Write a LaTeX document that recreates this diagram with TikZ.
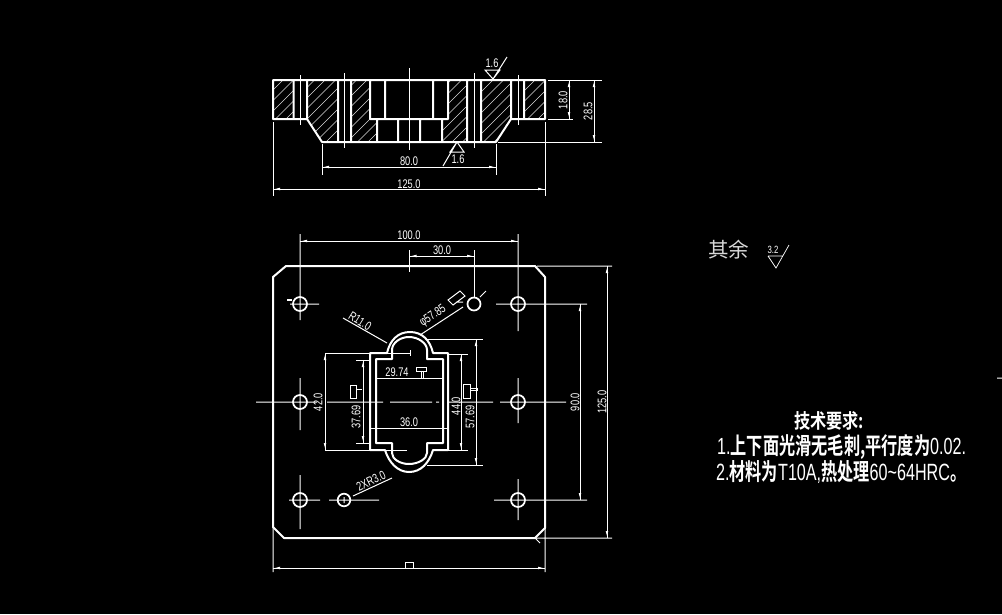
\documentclass[tikz,border=0pt]{standalone}
\usepackage{fontspec}
\usepackage{graphicx}
\setmainfont{Liberation Sans}
\newfontfamily\dimf[FakeStretch=0.74]{Liberation Sans}
\newfontfamily\cjkb{Noto Sans CJK SC Bold}
\newfontfamily\cjk{Noto Sans CJK SC}
\newcommand{\lat}[1]{{\fontspec{Liberation Sans}#1}}
\usetikzlibrary{arrows.meta}
\tikzset{
  obj/.style={white,line width=2pt,line cap=round,line join=round},
  thin line/.style={white,line width=1pt},
  hatchline/.style={white!85!black,line width=0.6pt},
  dimline/.style={white,line width=1pt,preaction={draw,white,line width=1pt,arrows=-},{Latex[length=7pt,width=2.6pt]}-{Latex[length=7pt,width=2.6pt]}},
  dimtxt/.style={white,inner sep=0pt,font=\dimf\fontsize{12.5}{12.5}\selectfont},
  hole/.style={white,line width=1.7pt},
  glyphbox/.style={white,line width=1pt},
  note/.style={white,inner sep=0pt},
}
\begin{document}
\begin{tikzpicture}[x=1pt,y=-1pt]
\fill[black] (0,0) rectangle (1002,614);
\useasboundingbox (0,0) rectangle (1002,614);
% ---- section hatching
\begin{scope}
\clip (273,80)--(293.5,80)--(293.5,119)--(273,119)--cycle
      (307,80)--(338,80)--(338,142)--(322,142)--(307,119)--cycle
      (351,80)--(370,80)--(370,119)--(377,119)--(377,142)--(351,142)--cycle
      (448,80)--(467,80)--(467,142)--(442,142)--(442,119)--(448,119)--cycle
      (481,80)--(511,80)--(511,119)--(496,142)--(481,142)--cycle
      (524,80)--(545,80)--(545,119)--(524,119)--cycle;
\foreach \k in {-6,...,26}{\draw[hatchline] (255+10.5*\k,150)--(335+10.5*\k,70);}
\end{scope}
% ---- section outline
\draw[obj] (273,80)--(545,80)--(545,119)--(524,119)--(524,80)
  (511,80)--(511,119)--(496,142)--(322,142)--(307,119)--(307,80)
  (293.5,80)--(293.5,119)--(273,119)--(273,80)
  (293.5,119)--(307,119) (511,119)--(524,119)
  (338,80)--(338,142) (351,80)--(351,142)
  (467,80)--(467,142) (481,80)--(481,142)
  (370,80)--(370,119)--(448,119)--(448,80)
  (385,80)--(385,119) (433,80)--(433,119)
  (377,119)--(377,142) (398,119)--(398,142) (420,119)--(420,142) (442,119)--(442,142);
\draw[thin line] (300,75)--(300,125) (344,73)--(344,148) (409.5,68)--(409.5,150) (474,73)--(474,148) (518,75)--(518,125);
% section dimensions
\draw[thin line] (322,144)--(322,175) (496,144)--(496,175) (273,122)--(273,196) (545,122)--(545,196)
  (548,80)--(602,80) (548,119)--(573,119) (498,142)--(602,142);
\draw[dimline] (322,167)--(496,167);
\draw[dimline] (273,189)--(545,189);
\draw[dimline] (569,80)--(569,119);
\draw[dimline] (594,80)--(594,142);
\node[dimtxt] (t80) at (409,161.5) {80.0};
\node[dimtxt] (t125a) at (409,184) {125.0};
\node[dimtxt,rotate=90] (t18) at (563,100) {18.0};
\node[dimtxt,rotate=90] (t285) at (588,111) {28.5};
% roughness marks
\draw[thin line] (485,70)--(500,70)--(493,79)--cycle (493,79)--(507,57);
\node[dimtxt] (ra1) at (492,63) {1.6};
\draw[thin line] (450,152)--(464,152)--(457,142)--cycle (457,142)--(443,166);
\node[dimtxt] (ra2) at (458,159) {1.6};
% ---- plan outline
\draw[obj] (286,266)--(535,266)--(545,277)--(545,528)--(535,538)--(284,538)--(273,527)--(273,277)--cycle;
% holes
\foreach \p/\n in {300/304,518/304,300/402,518/402,300/500,518/500}{\draw[hole] (\p,\n) circle[radius=7];}
\draw[hole] (344,500) circle[radius=6.3];
\draw[hole] (474,304) circle[radius=6.5];
% centre lines
\draw[thin line]
  (290,304)--(319,304) (300,234)--(300,320)
  (496,304)--(587,304) (518,234)--(518,331)
  (256,402)--(317,402) (300,378)--(300,430)
  (327,402)--(375,402) (377,402)--(383,402) (390,402)--(432,402) (436,402)--(439,402) (448,402)--(493,402)
  (500,402)--(566,402) (518,378)--(518,423)
  (289,500)--(320,500) (300,475)--(300,529)
  (329,500)--(379,500) (344,497)--(344,503)
  (494,500)--(587,500) (518,479)--(518,520)
  (480,297)--(486,291) (997,378)--(1002,378);
\draw[white,line width=1.4pt] (287,300)--(292,300);
% plan dimensions
\draw[thin line] (409.5,250)--(409.5,272) (474,250)--(474,298);
\draw[dimline] (300,241)--(518,241);
\draw[dimline] (409.5,256)--(474,256);
\node[dimtxt] (t100) at (409,235) {100.0};
\node[dimtxt] (t30) at (442,250) {30.0};
\draw[thin line] (537,266)--(612,266) (535,538)--(612,538) (535,538)--(540,543) (273,527)--(273,572) (545,528)--(545,572);
\draw[dimline] (580,304)--(580,500);
\draw[dimline] (607,266)--(607,538);
\draw[dimline] (273,568)--(545,568);
\node[dimtxt,rotate=90] (t90) at (575,402) {90.0};
\node[dimtxt,rotate=90] (t125b) at (602,402) {125.0};
\draw[glyphbox,fill=black] (405.5,562) rectangle (413.5,568);
% ---- pocket
\draw[obj] (387,353)--(370,353)--(370,450)--(385,450)
   .. controls (389,463) and (398,472) .. (409,472) .. controls (421,472) and (429,463) .. (433,450)
   --(448,450)--(448,353)--(433,353)
   .. controls (430,340) and (422,332) .. (410,332) .. controls (398,332) and (390,340) .. (387,353);
\draw[obj] (376,359)--(392,359)--(392,350)
   .. controls (392,343) and (400,337) .. (409,337) .. controls (418,337) and (427,343) .. (427,350)
   --(427,359)--(443,359)--(443,443)--(427,443)--(427,453)
   .. controls (427,459) and (418,464) .. (409,464) .. controls (400,464) and (392,459) .. (392,453)
   --(392,443)--(376,443)--cycle;
% pocket dimensions
\draw[thin line] (325,353)--(410,353) (410,350)--(410,356) (325,450)--(407,450)
  (356,360)--(370,360) (356,443)--(370,443)
  (448,354)--(468,354) (448,450)--(468,450)
  (427,339)--(483,339) (427,465)--(483,465);
\draw[dimline] (325,353)--(325,450);
\draw[dimline] (363,360)--(363,443);
\draw[dimline] (461,354)--(461,450);
\draw[dimline] (476,339)--(476,465);
\draw[thin line] (376,378)--(443,378) (370,428)--(448,428);
\node[dimtxt,rotate=90] (t42) at (318,402) {42.0};
\node[dimtxt,rotate=90] (t3769) at (356,417) {37.69};
\node[dimtxt,rotate=90] (t44) at (456,406) {44.0};
\node[dimtxt,rotate=90] (t5769) at (470,417) {57.69};
\node[dimtxt] (t2974) at (397,372) {29.74};
\node[dimtxt] (t36) at (409,422) {36.0};
% empty glyph boxes
\draw[glyphbox] (350.5,385) rectangle (356,398) (357,389)--(362,389);
\draw[glyphbox] (463,384) rectangle (470,398.5) (470,388.5) rectangle (477,390);
\draw[glyphbox] (416,367) rectangle (426,371.5) (421,371.5) rectangle (423,378);
\draw[glyphbox] (448,300)--(460,291)--(465,296)--(453,305)--cycle (456,302)--(463,302);
% leaders
\draw[thin line] (343,318)--(387,343) (420,335)--(463,307) (353,496)--(392,478);
\node[dimtxt,rotate=-32] (tr11) at (360,321) {R11.0};
\node[dimtxt,rotate=35] (tphi) at (433,316) {φ57.85};
\node[dimtxt,rotate=26] (t2x) at (371,481) {2XR3.0};
% ---- notes
\node[note,anchor=west,white!85!black,font=\cjk\fontsize{20.5}{20.5}\selectfont] (qy) at (708,250) {其余};
\draw[white,line width=0.7pt] (768,256)--(783,256) (768,256)--(776,268)--(789,245);
\node[dimtxt,font=\dimf\fontsize{10.5}{10.5}\selectfont] (r32) at (773,250) {3.2};
\node[note,anchor=center] (h1) at (829,421) {\resizebox{70pt}{17pt}{\cjkb 技术要求:}};
\node[note,anchor=west] (l1) at (717,447) {\resizebox{249pt}{20pt}{\lat{1.}\cjkb 上下面光滑无毛刺,平行度为\lat{0.02.}}};
\node[note,anchor=west] (l2) at (716,472) {\resizebox{250pt}{20pt}{\lat{2.}\cjkb 材料为\lat{T10A,}热处理\lat{60\char"007E 64HRC}。}};
\end{tikzpicture}
\end{document}
